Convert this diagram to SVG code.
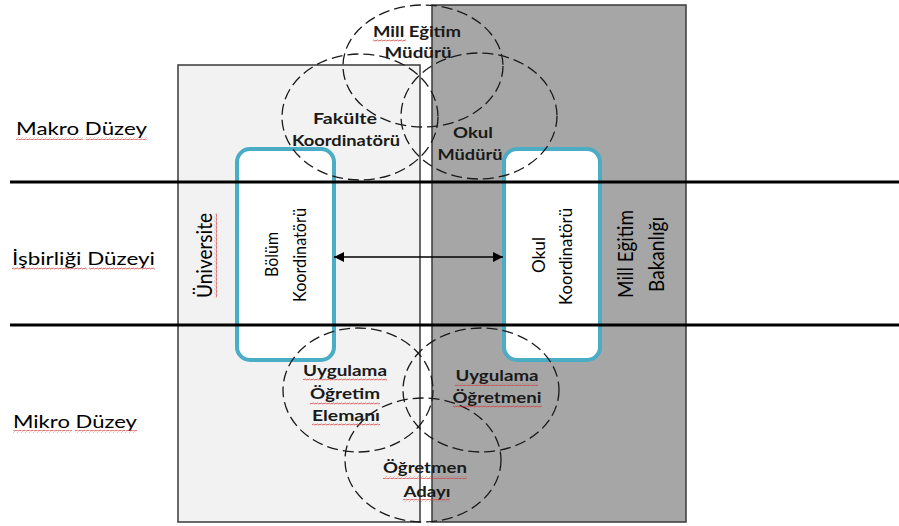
<svg xmlns="http://www.w3.org/2000/svg" width="899" height="526" viewBox="0 0 899 526">
<style>
.lvl{font-family:Lato,"Open Sans","Liberation Sans",sans-serif;font-size:16.5px;fill:#000}
.cl{font-family:Lato,"Open Sans","Liberation Sans",sans-serif;font-size:15px;font-weight:bold;fill:#1a1a1a;text-anchor:middle}
.vt{font-family:Lato,"Open Sans","Liberation Sans",sans-serif;font-size:14.5px;fill:#000;text-anchor:middle}
.vb{font-family:Lato,"Open Sans","Liberation Sans",sans-serif;font-size:18px;fill:#000;text-anchor:middle}
.circ{fill:none;stroke:#1a1a1a;stroke-width:1.3;stroke-dasharray:11 5}
.blue{fill:#fff;stroke:#4bacc6;stroke-width:4}
.band{stroke:#000;stroke-width:3}
.wv{fill:url(#wave)}
</style>
<defs>
<pattern id="wave" width="4" height="3" patternUnits="userSpaceOnUse">
<path d="M0,2.2 L1,0.8 L3,2.2 L4,0.8" fill="none" stroke="#d03a3a" stroke-width="0.7"/>
</pattern>
<marker id="ah" viewBox="0 0 10 10" refX="10" refY="5" markerWidth="10" markerHeight="10" markerUnits="userSpaceOnUse" orient="auto-start-reverse">
<path d="M0,0 L10,5 L0,10 z" fill="#000"/>
</marker>
</defs>
<rect width="899" height="526" fill="#fff"/>
<g id="universite">
<rect x="178" y="65" width="242" height="457" fill="#f2f2f2" stroke="#3a3a3a" stroke-width="1.5"/>
</g>
<g id="meb">
<rect x="432" y="5" width="254" height="517" fill="#a6a6a6" stroke="#3a3a3a" stroke-width="1.5"/>
</g>
<g id="bolum-koordinatoru">
<rect class="blue" x="237" y="149" width="97" height="211" rx="13"/>
</g>
<g id="okul-koordinatoru">
<rect class="blue" x="504" y="149" width="96" height="211" rx="13"/>
</g>
<g id="levels">
<line class="band" x1="10" y1="182" x2="899" y2="182"/>
<line class="band" x1="10" y1="325" x2="899" y2="325"/>
</g>
<g id="circles">
<ellipse id="c-mem" class="circ" cx="423" cy="66" rx="80" ry="61"/>
<ellipse id="c-fk" class="circ" cx="360" cy="117" rx="78" ry="63"/>
<ellipse id="c-om" class="circ" cx="479" cy="116" rx="78" ry="63"/>
<ellipse id="c-uoe" class="circ" cx="358" cy="390" rx="75" ry="62"/>
<ellipse id="c-uo" class="circ" cx="481" cy="390" rx="78" ry="62"/>
<ellipse id="c-oa" class="circ" cx="423" cy="460" rx="78" ry="62"/>
</g>
<g id="connectors">
<line x1="334" y1="257" x2="503" y2="257" stroke="#000" stroke-width="1.3" marker-start="url(#ah)" marker-end="url(#ah)"/>
</g>
<g id="level-labels">
<text class="lvl" x="16" y="135" textLength="131" lengthAdjust="spacingAndGlyphs">Makro Düzey</text>
<text class="lvl" x="12" y="265" textLength="143" lengthAdjust="spacingAndGlyphs">İşbirliği Düzeyi</text>
<text class="lvl" x="13" y="428" textLength="124" lengthAdjust="spacingAndGlyphs">Mikro Düzey</text>
<rect class="wv" x="16" y="137" width="67" height="3"/>
<rect class="wv" x="86" y="137" width="61" height="3"/>
<rect class="wv" x="12" y="267" width="75" height="3"/>
<rect class="wv" x="89" y="267" width="66" height="3"/>
<rect class="wv" x="13" y="430" width="59" height="3"/>
<rect class="wv" x="75" y="430" width="62" height="3"/>
</g>
<g id="node-labels">
<text class="cl" x="417" y="37" textLength="88" lengthAdjust="spacingAndGlyphs">Mill Eğitim</text>
<text class="cl" x="418" y="58" textLength="67" lengthAdjust="spacingAndGlyphs">Müdürü</text>
<rect class="wv" x="373" y="39" width="33" height="3"/>
<text class="cl" x="345" y="124" textLength="64" lengthAdjust="spacingAndGlyphs">Fakülte</text>
<text class="cl" x="346" y="146" textLength="108" lengthAdjust="spacingAndGlyphs">Koordinatörü</text>
<text class="cl" x="473" y="138" textLength="40" lengthAdjust="spacingAndGlyphs">Okul</text>
<text class="cl" x="470" y="160" textLength="65" lengthAdjust="spacingAndGlyphs">Müdürü</text>
<text class="cl" x="345" y="376" textLength="84" lengthAdjust="spacingAndGlyphs">Uygulama</text>
<text class="cl" x="345" y="399" textLength="70" lengthAdjust="spacingAndGlyphs">Öğretim</text>
<text class="cl" x="346" y="421" textLength="68" lengthAdjust="spacingAndGlyphs">Elemanı</text>
<rect class="wv" x="303" y="378" width="84" height="3"/>
<rect class="wv" x="310" y="402" width="70" height="3"/>
<rect class="wv" x="312" y="423" width="68" height="3"/>
<text class="cl" x="497" y="381" textLength="83" lengthAdjust="spacingAndGlyphs">Uygulama</text>
<text class="cl" x="497" y="403" textLength="89" lengthAdjust="spacingAndGlyphs">Öğretmeni</text>
<rect class="wv" x="455" y="383" width="83" height="3"/>
<rect class="wv" x="453" y="405" width="89" height="3"/>
<text class="cl" x="425" y="473" textLength="84" lengthAdjust="spacingAndGlyphs">Öğretmen</text>
<text class="cl" x="427" y="497" textLength="47" lengthAdjust="spacingAndGlyphs">Adayı</text>
<rect class="wv" x="383" y="476" width="84" height="3"/>
<rect class="wv" x="403" y="499" width="47" height="3"/>
</g>
<g id="vertical-labels">
<g transform="translate(212,255.5) rotate(-90)">
<text class="vb" x="0" y="0" transform="scale(1,1.15)" textLength="85" lengthAdjust="spacingAndGlyphs">Üniversite</text>
<rect class="wv" x="-42" y="2" width="84" height="3"/>
</g>
<g transform="translate(278,254.5) rotate(-90) scale(1,1.2)"><text class="vt" x="0" y="0" textLength="45" lengthAdjust="spacingAndGlyphs">Bölüm</text></g>
<g transform="translate(306,255) rotate(-90) scale(1,1.2)"><text class="vt" x="0" y="0" textLength="94" lengthAdjust="spacingAndGlyphs">Koordinatörü</text></g>
<g transform="translate(545,255) rotate(-90) scale(1,1.2)"><text class="vt" x="0" y="0" textLength="36" lengthAdjust="spacingAndGlyphs">Okul</text></g>
<g transform="translate(572,256.5) rotate(-90) scale(1,1.2)"><text class="vt" x="0" y="0" textLength="97" lengthAdjust="spacingAndGlyphs">Koordinatörü</text></g>
<g transform="translate(633,254) rotate(-90) scale(1,1.25)"><text class="vb" x="0" y="0" style="font-size:17px" textLength="88" lengthAdjust="spacingAndGlyphs">Mill Eğitim</text></g>
<g transform="translate(664,254.5) rotate(-90) scale(1,1.25)"><text class="vb" x="0" y="0" style="font-size:17px" textLength="75" lengthAdjust="spacingAndGlyphs">Bakanlığı</text></g>
</g>
</svg>
